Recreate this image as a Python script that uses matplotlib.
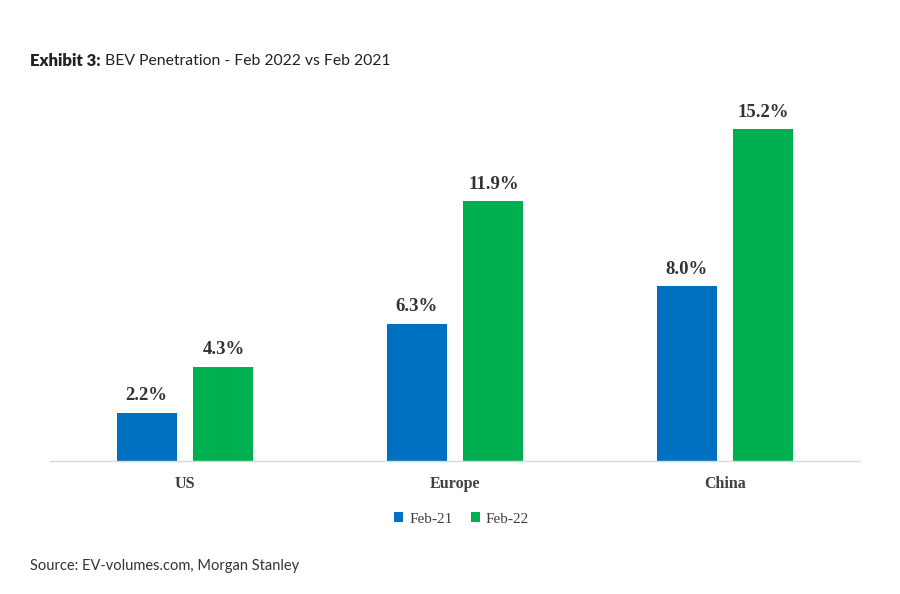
import matplotlib.pyplot as plt
import numpy as np

# Data
regions = ['US', 'Europe', 'China']
feb21 = [2.2, 6.3, 8.0]
feb22 = [4.3, 11.9, 15.2]
series_names = ['Feb-21', 'Feb-22']

blue = '#0070C0'
green = '#00B050'

fig = plt.figure(figsize=(9, 5.94), dpi=100)
ax = fig.add_axes([0.0556, 0.224, 0.9, 0.606])

x = np.arange(len(regions))
w = 0.222
off = 0.142
b1 = ax.bar(x - off, feb21, w, color=blue, label=series_names[0])
b2 = ax.bar(x + off, feb22, w, color=green, label=series_names[1])

for bars, vals in [(b1, feb21), (b2, feb22)]:
    for r, v in zip(bars, vals):
        ax.text(r.get_x() + r.get_width() / 2, v + 0.4, f'{v:.1f}%',
                ha='center', va='bottom', fontsize=13.5, fontweight='bold',
                family='Liberation Serif', color='#333333')

ax.set_xlim(-0.5, 2.5)
ax.set_ylim(0, 16.5)
ax.set_yticks([])
ax.set_xticks(x)
ax.set_xticklabels(regions, family='Liberation Serif', fontweight='bold',
                   fontsize=11.5, color='#404040')
ax.tick_params(axis='x', length=0, pad=11)
for s in ['top', 'right', 'left']:
    ax.spines[s].set_visible(False)
ax.spines['bottom'].set_color('#D9D9D9')
ax.spines['bottom'].set_linewidth(1)

leg = ax.legend(loc='upper center', bbox_to_anchor=(0.508, -0.105), ncol=2,
                frameon=False, prop={'family': 'Liberation Serif', 'size': 11},
                handlelength=0.6, handleheight=0.6, handletextpad=0.4,
                columnspacing=1.2)
for t in leg.get_texts():
    t.set_color('#404040')

# title: bold lead-in followed by regular text
t1 = fig.text(0.033, 0.898, 'Exhibit 3:', fontsize=12, fontweight='heavy',
              family='Lato', color='#222222', va='center')
fig.canvas.draw()
bb = t1.get_window_extent()
x2 = (bb.x1 + 5) / fig.bbox.width
fig.text(x2, 0.898, 'BEV Penetration - Feb 2022 vs Feb 2021', fontsize=11.3,
         family='Lato', color='#222222', va='center')
fig.text(0.033, 0.047, 'Source: EV-volumes.com, Morgan Stanley', fontsize=10.5,
         family='Lato', color='#333333', va='center')

fig.savefig('out.png', dpi=100, facecolor='white')
